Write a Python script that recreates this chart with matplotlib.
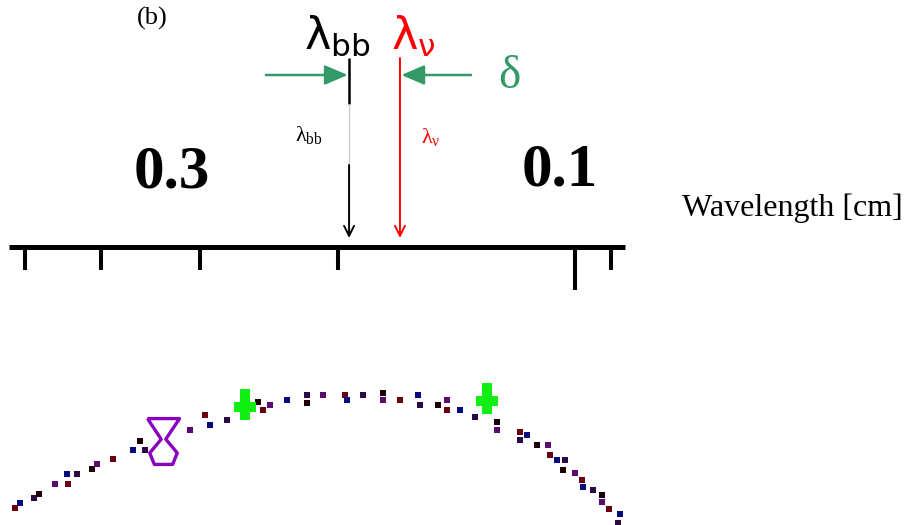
import matplotlib
matplotlib.use("Agg")
import matplotlib.pyplot as plt
from matplotlib.path import Path

# ---------------- data ----------------
# spectrum points (wavelength in cm, relative flux)
wavelength = [0.5148, 0.5074, 0.4871, 0.4800, 0.4580, 0.4409, 0.4422, 0.4295,
              0.4111, 0.4051, 0.3866, 0.3645, 0.3520, 0.3572, 0.3085, 0.2953,
              0.2910, 0.2768, 0.2529, 0.2442, 0.2492, 0.2323, 0.2191, 0.2191,
              0.2091, 0.1960, 0.1949, 0.1860, 0.1754, 0.1754, 0.1669, 0.1583,
              0.1574, 0.1493, 0.1454, 0.1454, 0.1400, 0.1340, 0.1256, 0.1256,
              0.1174, 0.1151, 0.1174, 0.1117, 0.1082, 0.1076, 0.1054, 0.1030,
              0.1035, 0.1000, 0.0980, 0.0977, 0.0949, 0.0924, 0.0924, 0.0905,
              0.0877, 0.0882]
flux = [17, 22, 27, 31, 41, 41, 51, 51,
        56, 61, 66, 75, 75, 84, 95, 110,
        100, 105, 123, 120, 115, 125, 130, 122,
        130, 130, 125, 130, 132, 125, 125, 130,
        120, 120, 125, 115, 115, 108, 103, 95,
        93, 90, 85, 80, 80, 70, 65, 65,
        55, 52, 45, 38, 35, 30, 23, 16,
        11, 2]
hourglass_wl, hourglass_flux = [0.3340], [84]
star_wl = [0.2627, 0.1294]
star_flux = [118, 124]

lambda_bb = 0.1937
lambda_nu = 0.1669

tick_wl = [0.5, 0.4, 0.3, 0.2, 0.1, 0.09]
tick_major = [False, False, False, False, True, False]

# ---------------- figure ----------------
W, H = 914, 525
fig = plt.figure(figsize=(W / 100, H / 100), dpi=100)
ax = fig.add_axes([0, 0, 1, 1])
ax.set_xscale('log')
ax.set_xlim(0.538, 0.03708)
ax.set_ylim(0, H)
ax.axis('off')

def Y(py):
    return H - py

def fx(px):
    return px / W

def fy(py):
    return 1 - py / H

serif = 'Liberation Serif'
sans = 'DejaVu Sans'
green = '#339966'

# axis line + ticks
ax.hlines(Y(247), 0.5246, 0.0864, colors='black', lw=3.6, capstyle='butt')
for t, major in zip(tick_wl, tick_major):
    ax.vlines(t, Y(290 if major else 270), Y(249), colors='black', lw=2.9,
              capstyle='butt')

# spectrum points
palette = ['#6b0010', '#0a0a80', '#2a0a40', '#1a0005', '#5a0a70']
cols = [palette[i % len(palette)] for i in range(len(wavelength))]
ax.scatter(wavelength, flux, s=16, marker='s', c=cols, linewidths=0, zorder=3)

hg = Path([(-0.7, 1), (0.7, 1), (0.1, 0.1), (0.6, -0.5), (0.4, -1), (-0.4, -1),
           (-0.6, -0.5), (-0.1, 0.1), (-0.7, 1)],
          [Path.MOVETO] + [Path.LINETO] * 8)
ax.plot(hourglass_wl, hourglass_flux, linestyle='none', marker=hg,
        markersize=33, markerfacecolor='none', markeredgecolor='#8a00c0',
        markeredgewidth=2.4, zorder=4)

plus = Path([(-0.25, 1), (0.25, 1), (0.25, 0.25), (0.6, 0.25), (0.6, -0.25),
             (0.25, -0.25), (0.25, -0.7), (-0.25, -0.7), (-0.25, -0.25),
             (-0.6, -0.25), (-0.6, 0.25), (-0.25, 0.25), (-0.25, 1)],
            [Path.MOVETO] + [Path.LINETO] * 12)
ax.plot(star_wl, star_flux, linestyle='none', marker=plus, markersize=26,
        color='#11ee11', markeredgewidth=0, zorder=5)

# vertical arrows
ax.plot([lambda_bb, lambda_bb], [Y(58), Y(104)], color='black', lw=1.8,
        solid_capstyle='butt')
ax.plot([lambda_bb, lambda_bb], [Y(104), Y(165)], color='#c8c8c8', lw=0.9)
ax.annotate('', xy=(lambda_bb, Y(238)), xytext=(lambda_bb, Y(165)),
            arrowprops=dict(arrowstyle='->', color='black', lw=1.4,
                            mutation_scale=18, shrinkA=0, shrinkB=0))
ax.annotate('', xy=(lambda_nu, Y(238)), xytext=(lambda_nu, Y(58)),
            arrowprops=dict(arrowstyle='->', color='red', lw=1.4,
                            mutation_scale=18, shrinkA=0, shrinkB=0))

# green delta arrows
ax.annotate('', xy=(lambda_bb, Y(75)), xytext=(fx(266), fy(75)),
            textcoords='figure fraction',
            arrowprops=dict(arrowstyle='-|>,head_length=0.7,head_width=0.3',
                            color=green, lw=1.8, mutation_scale=20,
                            shrinkA=0, shrinkB=1))
ax.annotate('', xy=(lambda_nu, Y(75)), xytext=(fx(471), fy(75)),
            textcoords='figure fraction',
            arrowprops=dict(arrowstyle='-|>,head_length=0.7,head_width=0.3',
                            color=green, lw=1.8, mutation_scale=20,
                            shrinkA=0, shrinkB=1))

# texts
fig.text(fx(152), fy(18), '(b)', family=serif, fontsize=19, ha='center',
         va='center')
fig.text(fx(337), fy(36), r'$\mathregular{λ_{bb}}$', family=sans, fontsize=32,
         ha='center', va='center', color='black')
fig.text(fx(413), fy(36), r'$\mathregular{λ_{ν}}$', family=sans, fontsize=32,
         ha='center', va='center', color='red')
fig.text(fx(509), fy(77), 'δ', family=serif, fontsize=34, ha='center',
         va='center', color=green)
fig.text(fx(309), fy(135), r'$\mathregular{λ_{bb}}$', family=serif, fontsize=16,
         ha='center', va='center', color='black')
fig.text(fx(431), fy(137), r'$\mathregular{λ_{ν}}$', family=serif, fontsize=16,
         ha='center', va='center', color='red')
fig.text(fx(172), fy(172), '0.3', family=serif, fontsize=44, weight='bold',
         ha='center', va='center')
fig.text(fx(560), fy(170), '0.1', family=serif, fontsize=44, weight='bold',
         ha='center', va='center')
fig.text(fx(792), fy(208), 'Wavelength [cm]', family=serif, fontsize=23,
         ha='center', va='center')

fig.savefig('out.png', dpi=100)
